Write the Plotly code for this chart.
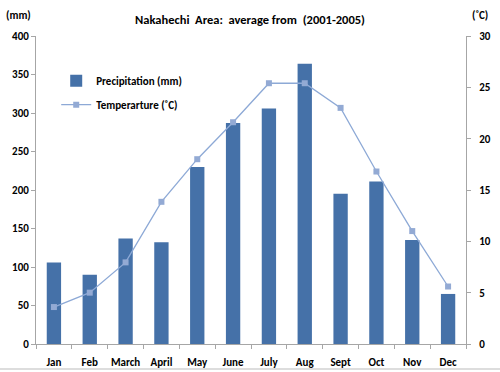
import plotly.graph_objects as go

months = ["Jan", "Feb", "March", "April", "May", "June", "July", "Aug", "Sept", "Oct", "Nov", "Dec"]
precip_mm = [106, 90, 137, 132, 230, 287, 306, 364, 195, 211, 135, 65]
temp_c = [3.6, 5.0, 7.95, 13.85, 18.0, 21.6, 25.4, 25.4, 23.0, 16.8, 11.0, 5.6]
left_ticks = [0, 50, 100, 150, 200, 250, 300, 350, 400]
right_ticks = [0, 5, 10, 15, 20, 25, 30]

FONT = "Carlito, 'Liberation Sans Narrow', 'Liberation Sans', sans-serif"
fig = go.Figure()
fig.add_trace(go.Bar(
    x=months, y=precip_mm, name="<b>Precipitation (mm)</b>",
    marker=dict(color="#4571A8", line=dict(width=0)),
    legendgroup="a",
))
fig.add_trace(go.Scatter(
    x=months, y=temp_c, name="<b>Temperarture (˚C)</b>", yaxis="y2",
    mode="lines+markers",
    line=dict(color="#8DA9D6", width=1.3),
    marker=dict(symbol="square", size=6, color="#93AAD4"),
    legendgroup="b",
))

axis_line = "#A6A6A6"
tickfont = dict(family=FONT, size=11, color="black", weight="bold")
PW = 430  # plot width in px (for paper-coord conversions)
fig.update_layout(
    width=500, height=372,
    margin=dict(l=36, r=34, t=36, b=28),
    paper_bgcolor="white", plot_bgcolor="white",
    bargap=0.6,
    showlegend=True,
    font=dict(family=FONT, size=11, color="black"),
    title=dict(text="<b>Nakahechi  Area:  average from  (2001-2005)</b>",
               x=0.5, xanchor="center", y=1 - 20 / 372, yanchor="middle",
               font=dict(family=FONT, size=12.5, color="black")),
    legend=dict(x=0.047, y=0.902, xanchor="left", yanchor="top",
                bgcolor="rgba(0,0,0,0)", font=dict(size=11, family=FONT),
                traceorder="grouped", tracegroupgap=5, itemwidth=30),
    xaxis=dict(
        range=[-0.5, len(months) - 0.5], autorange=False,
        showline=True, linecolor=axis_line, linewidth=1,
        ticks="outside", tickson="boundaries", ticklen=4, tickcolor=axis_line,
        tickfont=tickfont, tickangle=0, ticklabelstandoff=8,
        showgrid=False, zeroline=False, automargin=False,
    ),
    yaxis=dict(
        range=[0, 400], tickvals=left_ticks,
        showline=True, linecolor=axis_line, linewidth=1,
        ticks="outside", ticklen=4, tickcolor=axis_line,
        tickfont=tickfont, automargin=False,
        showgrid=False, zeroline=False,
    ),
    yaxis2=dict(
        range=[0, 30], tickvals=right_ticks, overlaying="y", side="right",
        showline=True, linecolor=axis_line, linewidth=1,
        ticks="outside", ticklen=4, tickcolor=axis_line,
        tickfont=tickfont, ticklabelstandoff=6, automargin=False,
        showgrid=False, zeroline=False,
    ),
    annotations=[
        dict(text="<b>(mm)</b>", xref="paper", yref="paper",
             x=-18 / PW, y=1 + 21 / 308, xanchor="center", yanchor="middle",
             showarrow=False, font=dict(family=FONT, size=11, color="black")),
        dict(text="<b>(˚C)</b>", xref="paper", yref="paper",
             x=1 + 14 / PW, y=1 + 21 / 308, xanchor="center", yanchor="middle",
             showarrow=False, font=dict(family=FONT, size=11, color="black")),
    ],
    shapes=[
        dict(type="line", xref="paper", yref="paper",
             x0=-36 / PW, x1=1 + 34 / PW, y0=-25 / 308, y1=-25 / 308,
             line=dict(color="#BBBBBB", width=1)),
    ],
)
fig.write_html("out.html", config={"displayModeBar": False},
               post_script="document.body.style.margin='0';")
